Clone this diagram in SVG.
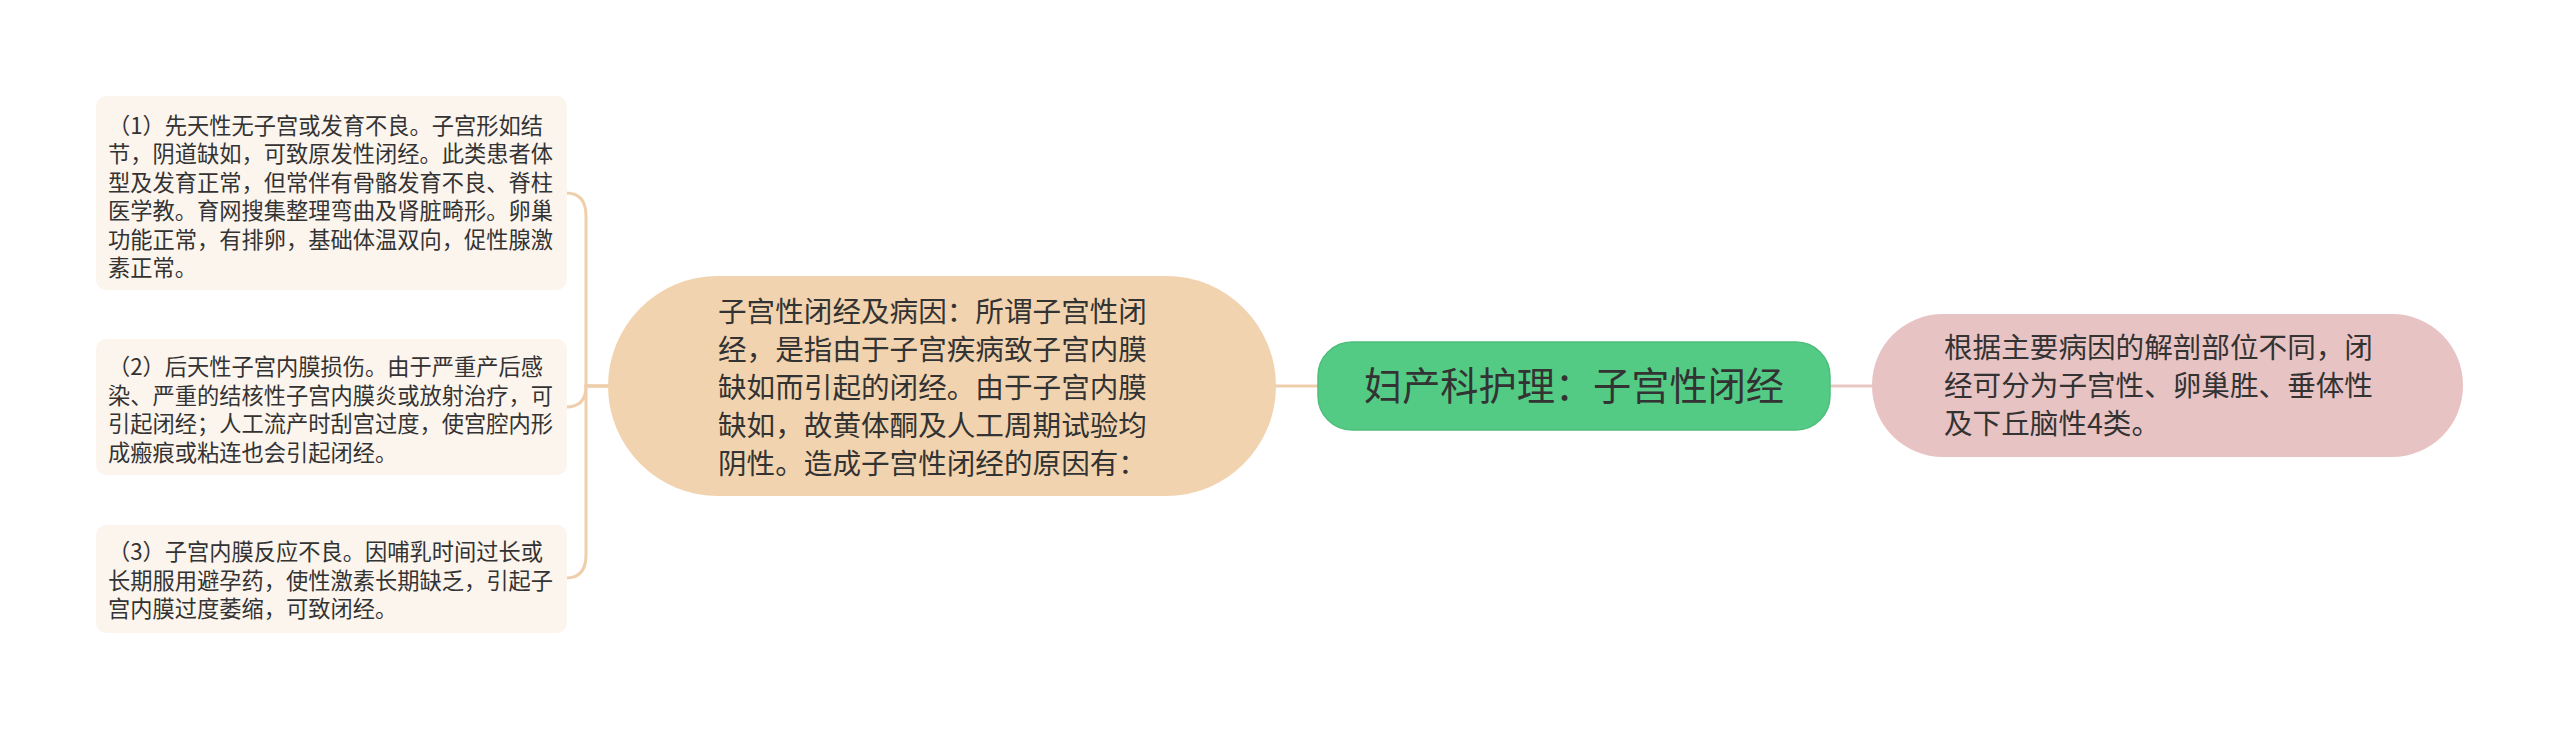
<svg xmlns="http://www.w3.org/2000/svg" width="2560" height="729" viewBox="0 0 2560 729">
<style>
text{font-family:"Noto Sans CJK SC","Noto Sans",sans-serif;fill:#333333}
.leaf rect{fill:#FCF5EE}
.leaf text{font-size:22.25px}
.mid rect{fill:#F2D3AF}
.mid text{font-size:28.6px}
.root rect{fill:#53CB84;stroke:#4DBE7B;stroke-width:1.5}
.root text{font-size:38.2px}
.right rect{fill:#E8C3C3}
.right text{font-size:28.6px}
.conn path{fill:none;stroke-width:3;stroke-linecap:round}
.tan{stroke:#EFCFAB}
.pink{stroke:#E8C6C2}
</style>
<rect width="2560" height="729" fill="#FFFFFF"/>
<g id="connectors" class="conn">
<path class="tan" d="M1318 386 H1276"/>
<path class="pink" d="M1830 386 H1872"/>
<path class="tan" d="M608 386 H586 V216 Q586 193 566 193"/>
<path class="tan" d="M608 386 H586 Q586 407 566 407"/>
<path class="tan" d="M608 386 H586 V555 Q586 578 566 578"/>
</g>
<g id="leaf1" class="leaf">
<rect x="96" y="96" width="471" height="194" rx="10"/>
<text x="108" y="133.5">（1）先天性无子宫或发育不良。子宫形如结<tspan x="108" y="162">节，阴道缺如，可致原发性闭经。此类患者体</tspan><tspan x="108" y="190.5">型及发育正常，但常伴有骨骼发育不良、脊柱</tspan><tspan x="108" y="219">医学教。育网搜集整理弯曲及肾脏畸形。卵巢</tspan><tspan x="108" y="247.5">功能正常，有排卵，基础体温双向，促性腺激</tspan><tspan x="108" y="276">素正常。</tspan></text>
</g>
<g id="leaf2" class="leaf">
<rect x="96" y="339" width="471" height="136" rx="10"/>
<text x="108" y="375.2">（2）后天性子宫内膜损伤。由于严重产后感<tspan x="108" y="403.7">染、严重的结核性子宫内膜炎或放射治疗，可</tspan><tspan x="108" y="432.2">引起闭经；人工流产时刮宫过度，使宫腔内形</tspan><tspan x="108" y="460.7">成瘢痕或粘连也会引起闭经。</tspan></text>
</g>
<g id="leaf3" class="leaf">
<rect x="96" y="525" width="471" height="108" rx="10"/>
<text x="108" y="560.2">（3）子宫内膜反应不良。因哺乳时间过长或<tspan x="108" y="588.7">长期服用避孕药，使性激素长期缺乏，引起子</tspan><tspan x="108" y="617.2">宫内膜过度萎缩，可致闭经。</tspan></text>
</g>
<g id="middle" class="mid">
<rect x="608" y="276" width="668" height="220" rx="110"/>
<text x="718" y="321.6">子宫性闭经及病因：所谓子宫性闭<tspan x="718" y="359.8">经，是指由于子宫疾病致子宫内膜</tspan><tspan x="718" y="398">缺如而引起的闭经。由于子宫内膜</tspan><tspan x="718" y="436.2">缺如，故黄体酮及人工周期试验均</tspan><tspan x="718" y="474.4">阴性。造成子宫性闭经的原因有：</tspan></text>
</g>
<g id="root" class="root">
<rect x="1318" y="342" width="512" height="88" rx="34"/>
<text x="1574" y="399.5" text-anchor="middle">妇产科护理：子宫性闭经</text>
</g>
<g id="rightnode" class="right">
<rect x="1872" y="314" width="591" height="143" rx="71"/>
<text x="1944" y="357.6">根据主要病因的解剖部位不同，闭<tspan x="1944" y="395.9">经可分为子宫性、卵巢胜、垂体性</tspan><tspan x="1944" y="434.2">及下丘脑性4类。</tspan></text>
</g>
</svg>
